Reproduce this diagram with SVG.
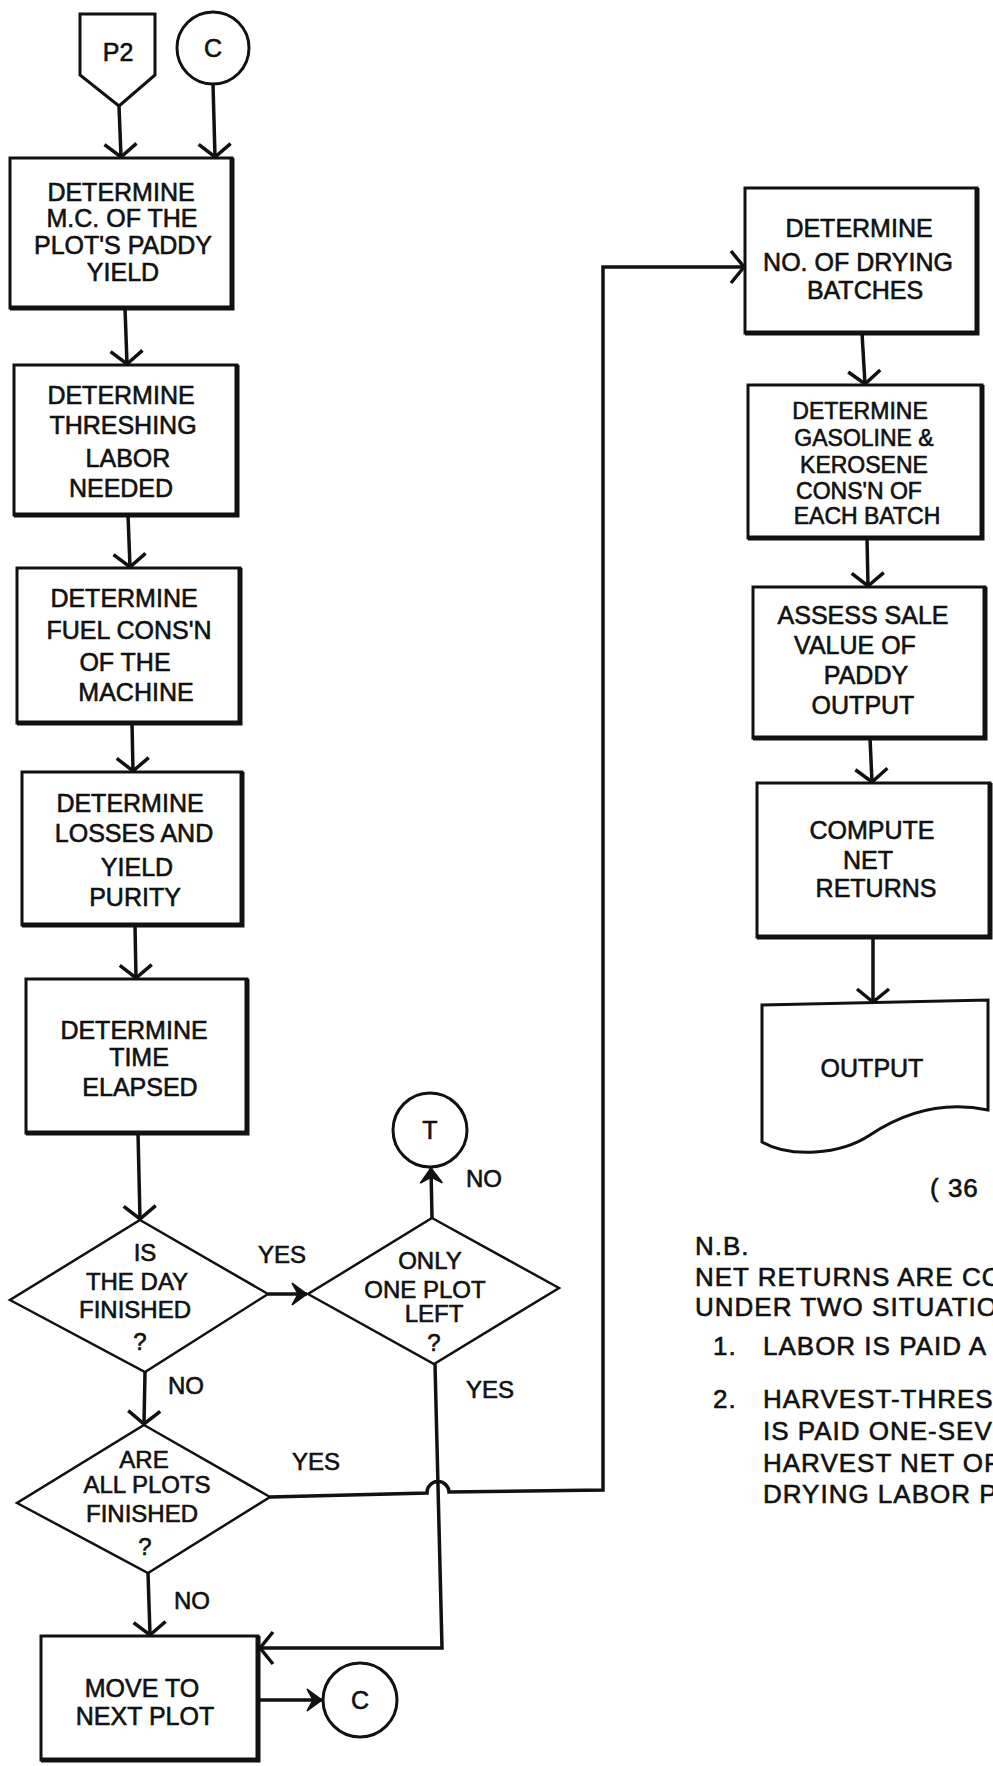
<svg xmlns="http://www.w3.org/2000/svg" width="993" height="1766" viewBox="0 0 993 1766">
<style>
.bx{fill:#fff;stroke:#111;stroke-width:3}
.sh{fill:none;stroke:#111;stroke-width:5;stroke-linejoin:miter}
.dm{fill:#fff;stroke:#111;stroke-width:2.5;stroke-linejoin:miter}
.ln{fill:none;stroke:#111;stroke-width:3.5}
.t{font-family:"Liberation Sans",Arial,sans-serif;font-size:25px;text-anchor:middle;fill:#111;stroke:#111;stroke-width:0.6}
.s{font-size:24px}
.r2{font-size:23px}
.l{font-family:"Liberation Sans",Arial,sans-serif;font-size:24px;fill:#111;stroke:#111;stroke-width:0.6}
.n{font-family:"Liberation Sans",Arial,sans-serif;font-size:26px;letter-spacing:1px;fill:#111;stroke:#111;stroke-width:0.6}
</style>
<defs>
<marker id="v" markerUnits="userSpaceOnUse" viewBox="-20 -20 24 40" refX="0" refY="0" markerWidth="24" markerHeight="40" orient="auto">
<path d="M-13,-16 L0,0 L-13,16" fill="none" stroke="#111" stroke-width="3.5"/>
</marker>
<marker id="f" markerUnits="userSpaceOnUse" viewBox="-20 -20 24 40" refX="0" refY="0" markerWidth="24" markerHeight="40" orient="auto">
<path d="M0,0 L-15,-11 L-9,0 L-15,11 Z" fill="#111" stroke="#111" stroke-width="1.5"/>
</marker>
</defs>

<g id="p2">
<path class="bx" d="M80,14 L155,14 L155,75 L119,106 L80,75 Z"/>
<text class="t" x="118" y="61">P2</text>
</g>
<g id="c-in">
<circle class="bx" cx="213" cy="48" r="36"/>
<text class="t" x="213" y="57">C</text>
</g>

<g id="b1">
<rect class="bx" x="10" y="158" width="222" height="150"/>
<path class="sh" d="M232,158 L232,308 L10,308"/>
<text class="t" x="121" y="201">DETERMINE</text>
<text class="t" x="122" y="227">M.C. OF THE</text>
<text class="t" x="123" y="254">PLOT'S PADDY</text>
<text class="t" x="123" y="281">YIELD</text>
</g>
<g id="b2">
<rect class="bx" x="14" y="365" width="223" height="150"/>
<path class="sh" d="M237,365 L237,515 L14,515"/>
<text class="t" x="121" y="404">DETERMINE</text>
<text class="t" x="123" y="434">THRESHING</text>
<text class="t" x="128" y="467">LABOR</text>
<text class="t" x="121" y="497">NEEDED</text>
</g>
<g id="b3">
<rect class="bx" x="17" y="568" width="223" height="155"/>
<path class="sh" d="M240,568 L240,723 L17,723"/>
<text class="t" x="124" y="607">DETERMINE</text>
<text class="t" x="129" y="639">FUEL CONS'N</text>
<text class="t" x="125" y="671">OF THE</text>
<text class="t" x="136" y="701">MACHINE</text>
</g>
<g id="b4">
<rect class="bx" x="22" y="772" width="220" height="153"/>
<path class="sh" d="M242,772 L242,925 L22,925"/>
<text class="t" x="130" y="812">DETERMINE</text>
<text class="t" x="134" y="842">LOSSES AND</text>
<text class="t" x="137" y="876">YIELD</text>
<text class="t" x="135" y="906">PURITY</text>
</g>
<g id="b5">
<rect class="bx" x="26" y="979" width="221" height="154"/>
<path class="sh" d="M247,979 L247,1133 L26,1133"/>
<text class="t" x="134" y="1039">DETERMINE</text>
<text class="t" x="139" y="1066">TIME</text>
<text class="t" x="140" y="1096">ELAPSED</text>
</g>

<g id="d1">
<polygon class="dm" points="140,1220 268,1294 145,1372 10,1300"/>
<text class="t s" x="145" y="1261">IS</text>
<text class="t s" x="137" y="1290">THE DAY</text>
<text class="t s" x="135" y="1318">FINISHED</text>
<text class="t s" x="140" y="1350">?</text>
</g>
<g id="d2">
<polygon class="dm" points="432,1218 559,1288 434,1364 308,1294"/>
<text class="t s" x="430" y="1269">ONLY</text>
<text class="t s" x="425" y="1298">ONE PLOT</text>
<text class="t s" x="434" y="1322">LEFT</text>
<text class="t s" x="434" y="1351">?</text>
</g>
<g id="t-conn">
<circle class="bx" cx="430" cy="1130" r="37"/>
<text class="t" x="430" y="1139">T</text>
</g>
<g id="d3">
<polygon class="dm" points="144,1425 270,1497 148,1573 17,1503"/>
<text class="t s" x="144" y="1468">ARE</text>
<text class="t s" x="147" y="1493">ALL PLOTS</text>
<text class="t s" x="142" y="1522">FINISHED</text>
<text class="t s" x="145" y="1555">?</text>
</g>
<g id="b6">
<rect class="bx" x="41" y="1636" width="217" height="124"/>
<path class="sh" d="M258,1636 L258,1760 L41,1760"/>
<text class="t" x="142" y="1697">MOVE TO</text>
<text class="t" x="145" y="1725">NEXT PLOT</text>
</g>
<g id="c-out">
<circle class="bx" cx="360" cy="1700" r="37"/>
<text class="t" x="360" y="1709">C</text>
</g>

<g id="r1">
<rect class="bx" x="745" y="188" width="232" height="145"/>
<path class="sh" d="M977,188 L977,333 L745,333"/>
<text class="t" x="859" y="237">DETERMINE</text>
<text class="t" x="858" y="271">NO. OF DRYING</text>
<text class="t" x="865" y="299">BATCHES</text>
</g>
<g id="r2">
<rect class="bx" x="748" y="385" width="234" height="153"/>
<path class="sh" d="M982,385 L982,538 L748,538"/>
<text class="t r2" x="860" y="419">DETERMINE</text>
<text class="t r2" x="864" y="446">GASOLINE &amp;</text>
<text class="t r2" x="864" y="473">KEROSENE</text>
<text class="t r2" x="859" y="499">CONS'N OF</text>
<text class="t r2" x="867" y="524">EACH BATCH</text>
</g>
<g id="r3">
<rect class="bx" x="753" y="587" width="232" height="151"/>
<path class="sh" d="M985,587 L985,738 L753,738"/>
<text class="t" x="863" y="624">ASSESS SALE</text>
<text class="t" x="855" y="654">VALUE OF</text>
<text class="t" x="866" y="684">PADDY</text>
<text class="t" x="863" y="714">OUTPUT</text>
</g>
<g id="r4">
<rect class="bx" x="757" y="783" width="233" height="154"/>
<path class="sh" d="M990,783 L990,937 L757,937"/>
<text class="t" x="872" y="839">COMPUTE</text>
<text class="t" x="868" y="869">NET</text>
<text class="t" x="876" y="897">RETURNS</text>
</g>
<g id="r5">
<path class="bx" d="M762,1005 L988,1000 L988,1110 C940,1100 900,1115 870,1135 C840,1155 790,1158 762,1142 Z"/>
<text class="t" x="872" y="1077">OUTPUT</text>
</g>

<g id="connectors">
<line class="ln" x1="119" y1="106" x2="121" y2="157" marker-end="url(#v)"/>
<line class="ln" x1="213" y1="84" x2="215" y2="157" marker-end="url(#v)"/>
<line class="ln" x1="125" y1="308" x2="127" y2="364" marker-end="url(#v)"/>
<line class="ln" x1="128" y1="515" x2="130" y2="567" marker-end="url(#v)"/>
<line class="ln" x1="132" y1="723" x2="133" y2="771" marker-end="url(#v)"/>
<line class="ln" x1="135" y1="925" x2="136" y2="978" marker-end="url(#v)"/>
<line class="ln" x1="138" y1="1133" x2="140" y2="1219" marker-end="url(#v)"/>
<line class="ln" x1="268" y1="1294" x2="307" y2="1294" marker-end="url(#f)"/>
<line class="ln" x1="432" y1="1218" x2="431" y2="1168" marker-end="url(#f)"/>
<line class="ln" x1="145" y1="1372" x2="144" y2="1424" marker-end="url(#v)"/>
<line class="ln" x1="148" y1="1573" x2="150" y2="1635" marker-end="url(#v)"/>
<path class="ln" d="M270,1497 L427,1493 A11,11 0 0 1 449,1492 L603,1490 L603,267 L744,267" marker-end="url(#v)"/>
<path class="ln" d="M435,1364 L442,1648 L260,1648" marker-end="url(#v)"/>
<line class="ln" x1="258" y1="1700" x2="322" y2="1700" marker-end="url(#f)"/>
<line class="ln" x1="862" y1="333" x2="865" y2="384" marker-end="url(#v)"/>
<line class="ln" x1="867" y1="538" x2="868" y2="586" marker-end="url(#v)"/>
<line class="ln" x1="870" y1="738" x2="872" y2="782" marker-end="url(#v)"/>
<line class="ln" x1="873" y1="937" x2="873" y2="1002" marker-end="url(#v)"/>
</g>

<g id="labels">
<text class="l" x="258" y="1263">YES</text>
<text class="l" x="466" y="1187">NO</text>
<text class="l" x="168" y="1394">NO</text>
<text class="l" x="466" y="1398">YES</text>
<text class="l" x="292" y="1470">YES</text>
<text class="l" x="174" y="1609">NO</text>
</g>

<g id="notes">
<text class="n" x="930" y="1197">( 36</text>
<text class="n" x="695" y="1255">N.B.</text>
<text class="n" x="695" y="1286">NET RETURNS ARE CO</text>
<text class="n" x="695" y="1316">UNDER TWO SITUATIO</text>
<text class="n" x="713" y="1355">1.</text>
<text class="n" x="763" y="1355">LABOR IS PAID A</text>
<text class="n" x="713" y="1408">2.</text>
<text class="n" x="763" y="1408">HARVEST-THRESH</text>
<text class="n" x="763" y="1440">IS PAID ONE-SEVE</text>
<text class="n" x="763" y="1472">HARVEST NET OF</text>
<text class="n" x="763" y="1503">DRYING LABOR PA</text>
</g>
</svg>
